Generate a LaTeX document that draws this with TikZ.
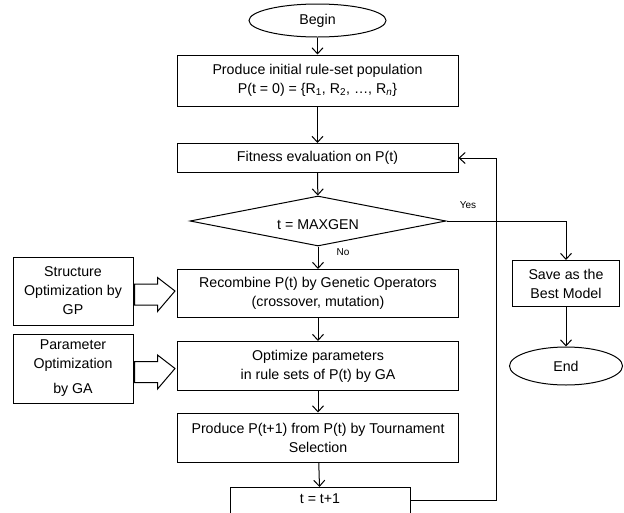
\documentclass[tikz,border=0pt]{standalone}
\usepackage{fontspec}
\setmainfont{Liberation Sans}
\usetikzlibrary{shapes.geometric,arrows.meta,calc}
\begin{document}
\begin{tikzpicture}[x=1pt,y=-1pt,
  every node/.style={font=\fontsize{14.2}{19}\selectfont},
  box/.style={draw,rectangle,line width=1pt,align=center,inner sep=0pt},
  term/.style={draw,ellipse,line width=1pt,inner sep=0pt},
  flow/.style={draw,line width=1pt,-{Straight Barb[length=6pt,width=11pt]}},
  hollow/.style={draw,line width=1pt,fill=white,line join=miter},
  lab/.style={font=\fontsize{10}{12}\selectfont}]
\useasboundingbox (0,0) rectangle (624,512);
\node[term,minimum width=137pt,minimum height=33pt] (begin) at (317.5,20.5) {Begin};
\node[box,minimum width=281pt,minimum height=51pt] (b1) at (317.5,80.5)
  {Produce initial rule-set population\\P(t = 0) = \{R\textsubscript{1}, R\textsubscript{2}, …, R\textsubscript{\itshape n}\}};
\node[box,minimum width=281pt,minimum height=29pt] (b2) at (317.5,158) {Fitness evaluation on P(t)};
\node[draw,diamond,line width=1pt,minimum width=256pt,minimum height=50pt,inner sep=0pt] (dia) at (318,221) {};
\node at ($(dia.center)+(0,4)$) (diat) {t = MAXGEN};
\node[box,minimum width=281pt,minimum height=48pt] (b3) at (318,293.5)
  {Recombine P(t) by Genetic Operators\\(crossover, mutation)};
\node[box,minimum width=281pt,minimum height=49pt] (b4) at (318,366)
  {Optimize parameters\\in rule sets of P(t) by GA};
\node[box,minimum width=281pt,minimum height=49pt] (b5) at (318,437.5)
  {Produce P(t+1) from P(t) by Tournament\\Selection};
\node[box,minimum width=180pt,minimum height=32pt,anchor=north] (b6) at (320,487) {};
\node (b6t) at (320,499) {t = t+1};
\node[box,minimum width=107pt,minimum height=46pt] (save) at (566,283.5) {Save as the\\Best Model};
\node[term,minimum width=113pt,minimum height=38pt] (end) at (566,366) {End};
\node[box,minimum width=120pt,minimum height=68pt] (s) at (73,291)
  {Structure\\Optimization by\\GP};
\node[box,minimum width=120pt,minimum height=69pt] (p) at (73,368.5)
  {Parameter\\Optimization\\[6pt]by GA};
\node[lab] (yes) at (468,205) {Yes};
\node[lab] (no) at (343,252) {No};
\coordinate (yc) at (566,221);
\coordinate (l1) at (496,500);
\coordinate (l2) at (496,158);
\path[flow] (begin) -- (b1);
\path[flow] (b1) -- (b2);
\path[flow] (b2) -- (dia);
\path[flow] (dia.south) -- (b3);
\path[flow] (b3) -- (b4);
\path[flow] (b4) -- (b5);
\path[flow] (b5) -- (b6);
\path[flow] (dia.east) -- (yc) -- (save.north);
\path[flow] (save) -- (end);
\path[flow] (b6.east |- l1) -- (l1) -- (l2) -- (b2.east);
\path[hollow] ($(s.east)+(1,-7)$) -- ++(23,0) -- ++(0,-6.5) -- ($(b3.west |- s.east)+(-2,0)$)
  -- ($(s.east)+(24,20.5)$) -- ++(0,-6.5) -- ++(-23,0) -- cycle;
\path[hollow] ($(p.east)+(1,-7)$) -- ++(23,0) -- ++(0,-6.5) -- ($(b4.west |- p.east)+(-2,0)$)
  -- ($(p.east)+(24,20.5)$) -- ++(0,-6.5) -- ++(-23,0) -- cycle;
\end{tikzpicture}
\end{document}
